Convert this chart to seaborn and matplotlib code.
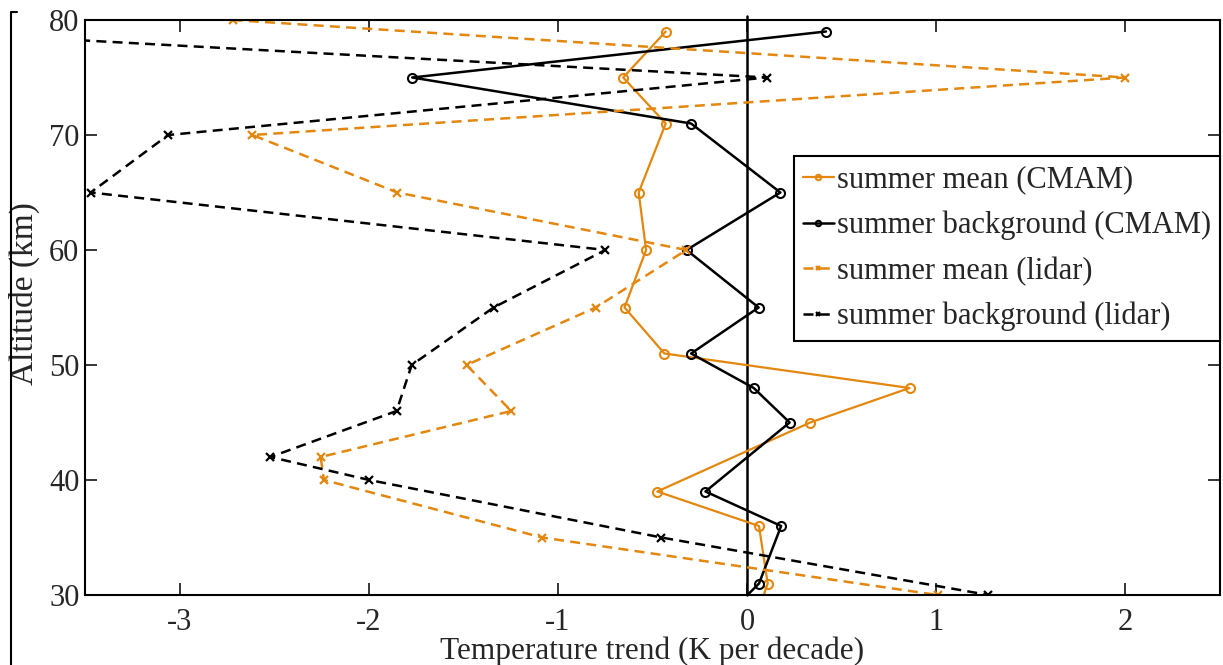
import matplotlib
matplotlib.use("Agg")
import matplotlib.pyplot as plt
from matplotlib.lines import Line2D
import seaborn as sns

# CMAM model levels (km) and trends (K per decade)
cmam_alt = [79, 75, 71, 65, 60, 55, 51, 48, 45, 39, 36, 31, 28]
cmam_mean = [-0.43, -0.655, -0.43, -0.573, -0.534, -0.648, -0.437, 0.859, 0.334, -0.475, 0.063, 0.109, 0.046]
cmam_bg = [0.417, -1.77, -0.296, 0.176, -0.32, 0.061, -0.296, 0.035, 0.225, -0.22, 0.18, 0.063, -0.12]

# lidar altitudes (km) and trends
lidar_alt = [80, 75, 70, 65, 60, 55, 50, 46, 42, 40, 35, 30]
lidar_mean = [-2.72, 2.0, -2.615, -1.849, -0.321, -0.80, -1.483, -1.247, -2.254, -2.237, -1.083, 1.007]
lidar_bg = [-5.5, 0.106, -3.06, -3.47, -0.749, -1.34, -1.773, -1.853, -2.52, -1.997, -0.453, 1.276]

x_ticks = [-3, -2, -1, 0, 1, 2]
y_ticks = [30, 40, 50, 60, 70, 80]

orange = "#e3870e"
dash = (0, (4, 2.5))

sns.set_style("ticks")
plt.rcParams["font.family"] = ["Liberation Serif", "DejaVu Serif"]
plt.rcParams["axes.unicode_minus"] = False

fig = plt.figure(figsize=(12.23, 6.65), dpi=100)
ax = fig.add_axes([85 / 1223, 70 / 665, 1135 / 1223, 575 / 665])

ax.axvline(0, ymin=0, ymax=1.007, color="black", lw=1.8, clip_on=False, zorder=1)

sns.lineplot(x=cmam_mean, y=cmam_alt, sort=False, estimator=None, ax=ax,
             color=orange, lw=1.6, marker="o", markersize=6.5, mfc="none",
             mec=orange, mew=1.5, label="summer mean (CMAM)")
sns.lineplot(x=cmam_bg, y=cmam_alt, sort=False, estimator=None, ax=ax,
             color="black", lw=1.8, marker="o", markersize=6.5, mfc="none",
             mec="black", mew=1.5, label="summer background (CMAM)")
sns.lineplot(x=lidar_mean, y=lidar_alt, sort=False, estimator=None, ax=ax,
             color=orange, lw=1.8, linestyle=dash, marker="x", markersize=6,
             mec=orange, mew=1.6, label="summer mean (lidar)")
sns.lineplot(x=lidar_bg, y=lidar_alt, sort=False, estimator=None, ax=ax,
             color="black", lw=1.8, linestyle=dash, marker="x", markersize=6,
             mec="black", mew=1.6, label="summer background (lidar)")

ax.set_xlim(-3.5, 2.5)
ax.set_ylim(30, 80)
ax.set_xticks(x_ticks)
ax.set_yticks(y_ticks)
ax.tick_params(direction="in", length=8.5, width=1.3, labelsize=22,
               top=True, right=True)
ax.tick_params(axis="x", pad=9)
ax.tick_params(axis="y", pad=4)
for s in ax.spines.values():
    s.set_linewidth(1.5)
    s.set_color("black")

ax.set_xlabel("Temperature trend (K per decade)", fontsize=22.5)
ax.set_ylabel("Altitude (km)", fontsize=24)
ax.xaxis.set_label_coords(0.5, -0.111)
ax.xaxis.label.set_va("baseline")
ax.yaxis.set_label_coords(-0.0396, 0.525)

leg = ax.legend(loc="center right", bbox_to_anchor=(1.0, 0.6026),
                borderaxespad=0, fontsize=22, frameon=True, fancybox=False,
                edgecolor="black", framealpha=1, handlelength=1.0,
                handletextpad=0.1, labelspacing=0.53, borderpad=0.3,
                markerscale=0.6)
leg.get_frame().set_linewidth(1.5)

# left bracket left over from the original page
fig.add_artist(Line2D([17 / 1223, 11 / 1223, 11 / 1223],
                      [1 - 12 / 665, 1 - 12 / 665, 0],
                      color="black", lw=1.5))

fig.savefig("out.png", dpi=100)
